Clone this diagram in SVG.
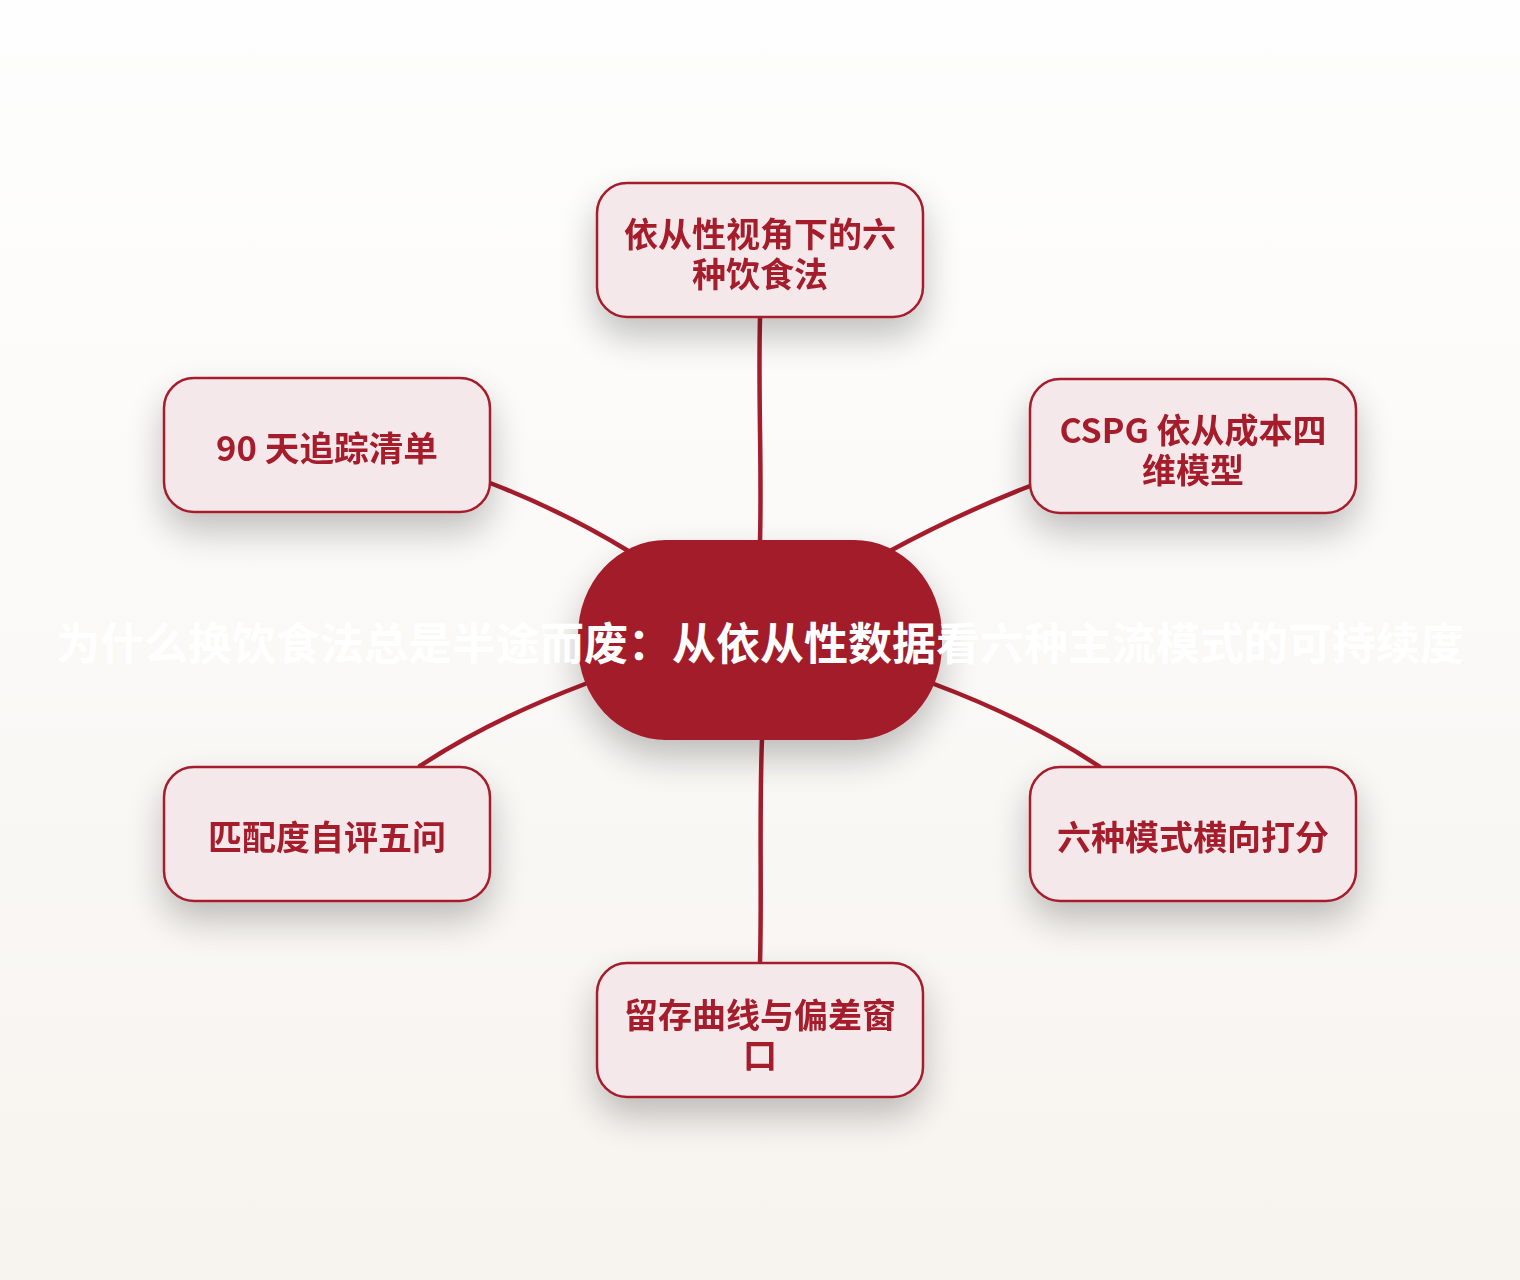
<svg xmlns="http://www.w3.org/2000/svg" width="1520" height="1280" viewBox="0 0 1520 1280">
<defs>
<linearGradient id="bg" x1="0" y1="0" x2="0" y2="1">
<stop offset="0" stop-color="#fefefe"/>
<stop offset="1" stop-color="#f7f4ef"/>
</linearGradient>
<filter id="sh" x="-40%" y="-40%" width="180%" height="210%">
<feGaussianBlur in="SourceAlpha" stdDeviation="18"/>
<feOffset dx="0" dy="18" result="b"/>
<feComponentTransfer><feFuncA type="linear" slope="0.24"/></feComponentTransfer>
<feMerge><feMergeNode/><feMergeNode in="SourceGraphic"/></feMerge>
</filter>
<style>
.node{fill:#f5e8eb;stroke:#a51c2c;stroke-width:2.5}
.lbl{font-family:"Noto Sans CJK SC","Liberation Sans",sans-serif;font-weight:700;font-size:34px;fill:#a51c2c;text-anchor:middle;dominant-baseline:central}
.edge{fill:none;stroke:#a51c2c;stroke-width:4.5;stroke-linecap:round}
.title{font-family:"Noto Sans CJK SC","Liberation Sans",sans-serif;font-weight:700;font-size:44px;fill:#ffffff;text-anchor:middle;dominant-baseline:central}
</style>
</defs>
<rect width="1520" height="1280" fill="url(#bg)"/>
<g id="connectors">
<path class="edge" d="M760,318 C758,400 762,460 760,542"/>
<path class="edge" d="M490,483 Q565,512 630,552"/>
<path class="edge" d="M1030,486 Q958,514 888,552"/>
<path class="edge" d="M585,684 Q490,720 420,766"/>
<path class="edge" d="M934,684 Q1030,720 1100,767"/>
<path class="edge" d="M762,738 C759,820 762,890 760,963"/>
</g>
<g id="n-top" filter="url(#sh)">
<rect class="node" x="597" y="183" width="326" height="134" rx="30"/>
<text class="lbl" x="760" y="232">依从性视角下的六</text>
<text class="lbl" x="760" y="272">种饮食法</text>
</g>
<g id="n-lt" filter="url(#sh)">
<rect class="node" x="164" y="378" width="326" height="134" rx="30"/>
<text class="lbl" x="327" y="446" textLength="222" lengthAdjust="spacingAndGlyphs">90 天追踪清单</text>
</g>
<g id="n-rt" filter="url(#sh)">
<rect class="node" x="1030" y="379" width="326" height="134" rx="30"/>
<text class="lbl" x="1193" y="428">CSPG 依从成本四</text>
<text class="lbl" x="1193" y="468">维模型</text>
</g>
<g id="n-lb" filter="url(#sh)">
<rect class="node" x="164" y="767" width="326" height="134" rx="30"/>
<text class="lbl" x="327" y="835">匹配度自评五问</text>
</g>
<g id="n-rb" filter="url(#sh)">
<rect class="node" x="1030" y="767" width="326" height="134" rx="30"/>
<text class="lbl" x="1193" y="835">六种模式横向打分</text>
</g>
<g id="n-bottom" filter="url(#sh)">
<rect class="node" x="597" y="963" width="326" height="134" rx="30"/>
<text class="lbl" x="760" y="1013">留存曲线与偏差窗</text>
<text class="lbl" x="760" y="1053">口</text>
</g>
<g id="n-center">
<rect x="578" y="540" width="364" height="200" rx="88" ry="95" fill="#a31a2a" filter="url(#sh)"/>
<text class="title" x="760" y="641">为什么换饮食法总是半途而废：从依从性数据看六种主流模式的可持续度</text>
</g>
</svg>
